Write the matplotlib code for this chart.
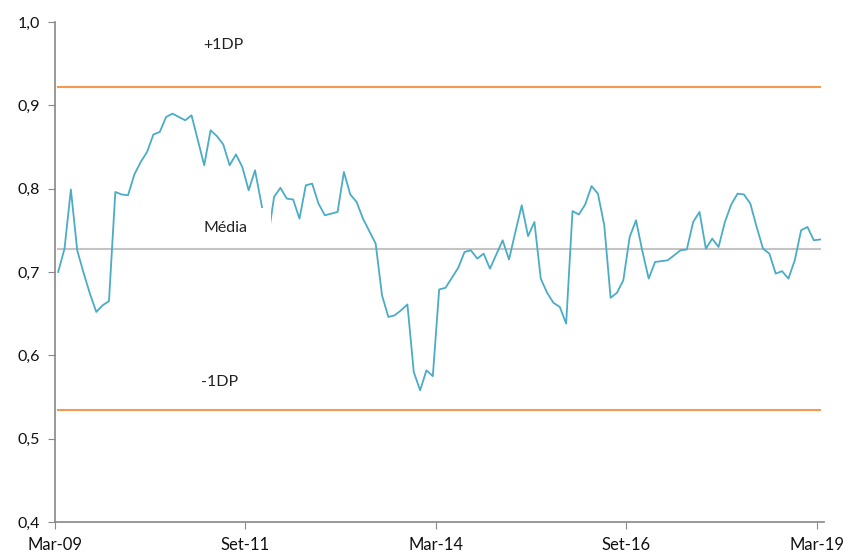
import matplotlib
matplotlib.use("Agg")
import matplotlib.pyplot as plt
from matplotlib.patches import Rectangle

plt.rcParams['font.family'] = ['Lato', 'DejaVu Sans']

# monthly series, Mar-09 .. Mar-19
serie = [0.700, 0.728, 0.799, 0.726, 0.699, 0.674, 0.652, 0.660, 0.665, 0.796,
         0.793, 0.792, 0.817, 0.832, 0.844, 0.865, 0.868, 0.886, 0.890, 0.886,
         0.882, 0.888, 0.858, 0.828, 0.870, 0.863, 0.853, 0.828, 0.841, 0.826,
         0.798, 0.822, 0.782, 0.738, 0.790, 0.801, 0.788, 0.787, 0.764, 0.804,
         0.806, 0.782, 0.768, 0.770, 0.772, 0.820, 0.793, 0.784, 0.764, 0.749,
         0.734, 0.672, 0.646, 0.648, 0.654, 0.661, 0.580, 0.558, 0.582, 0.575,
         0.679, 0.681, 0.693, 0.705, 0.724, 0.726, 0.716, 0.722, 0.704, 0.721,
         0.738, 0.715, 0.748, 0.780, 0.743, 0.760, 0.692, 0.675, 0.663, 0.658,
         0.638, 0.773, 0.769, 0.781, 0.803, 0.794, 0.756, 0.669, 0.675, 0.690,
         0.742, 0.762, 0.725, 0.692, 0.712, 0.713, 0.714, 0.720, 0.726, 0.727,
         0.760, 0.772, 0.728, 0.740, 0.730, 0.760, 0.781, 0.794, 0.793, 0.782,
         0.754, 0.728, 0.722, 0.698, 0.701, 0.692, 0.714, 0.750, 0.754, 0.738,
         0.739]
media = 0.728
dp_sup = 0.922
dp_inf = 0.534
tick_labels = ['Mar-09', 'Set-11', 'Mar-14', 'Set-16', 'Mar-19']
tick_meses = [0, 30, 60, 90, 120]

x = [i + 0.5 for i in range(len(serie))]

fig = plt.figure(figsize=(8.5, 5.56), dpi=100)
ax = fig.add_axes([0.0647, 0.0612, 0.9043, 0.8993])

ax.plot(x, serie, color='#4BACC6', lw=1.3, zorder=3)
ax.plot([x[0], x[-1]], [dp_sup, dp_sup], color='#F39A4E', lw=1.5, zorder=2)
ax.plot([x[0], x[-1]], [dp_inf, dp_inf], color='#F39A4E', lw=1.5, zorder=2)
ax.plot([x[0], x[-1]], [media, media], color='#C4C4C4', lw=1.5, zorder=2)

# caixa de texto branca da legenda "Média"
ax.add_patch(Rectangle((22, 0.735), 12.0, 0.042, facecolor='white',
                       edgecolor='none', zorder=4))
ax.text(23.4, 0.753, 'Média', fontsize=11.5, color='#222222', va='center', zorder=5)
ax.text(23.4, 0.972, '+1DP', fontsize=11.5, color='#222222', va='center')
ax.text(23.0, 0.568, '-1DP', fontsize=11.5, color='#222222', va='center')

ax.set_xlim(0, 121.05)
ax.set_ylim(0.4, 1.0)
ax.set_xticks(tick_meses)
ax.set_xticklabels(tick_labels)
yt = [0.4, 0.5, 0.6, 0.7, 0.8, 0.9, 1.0]
ax.set_yticks(yt)
ax.set_yticklabels([f'{v:.1f}'.replace('.', ',') for v in yt])

for s in ['top', 'right']:
    ax.spines[s].set_visible(False)
for s in ['left', 'bottom']:
    ax.spines[s].set_color('#888888')
    ax.spines[s].set_linewidth(1.2)
ax.tick_params(axis='both', direction='out', length=5, color='#888888',
               labelsize=11.5, labelcolor='#111111', pad=6)
ax.tick_params(axis='x', labelsize=12)

fig.savefig('out.png', dpi=100)
